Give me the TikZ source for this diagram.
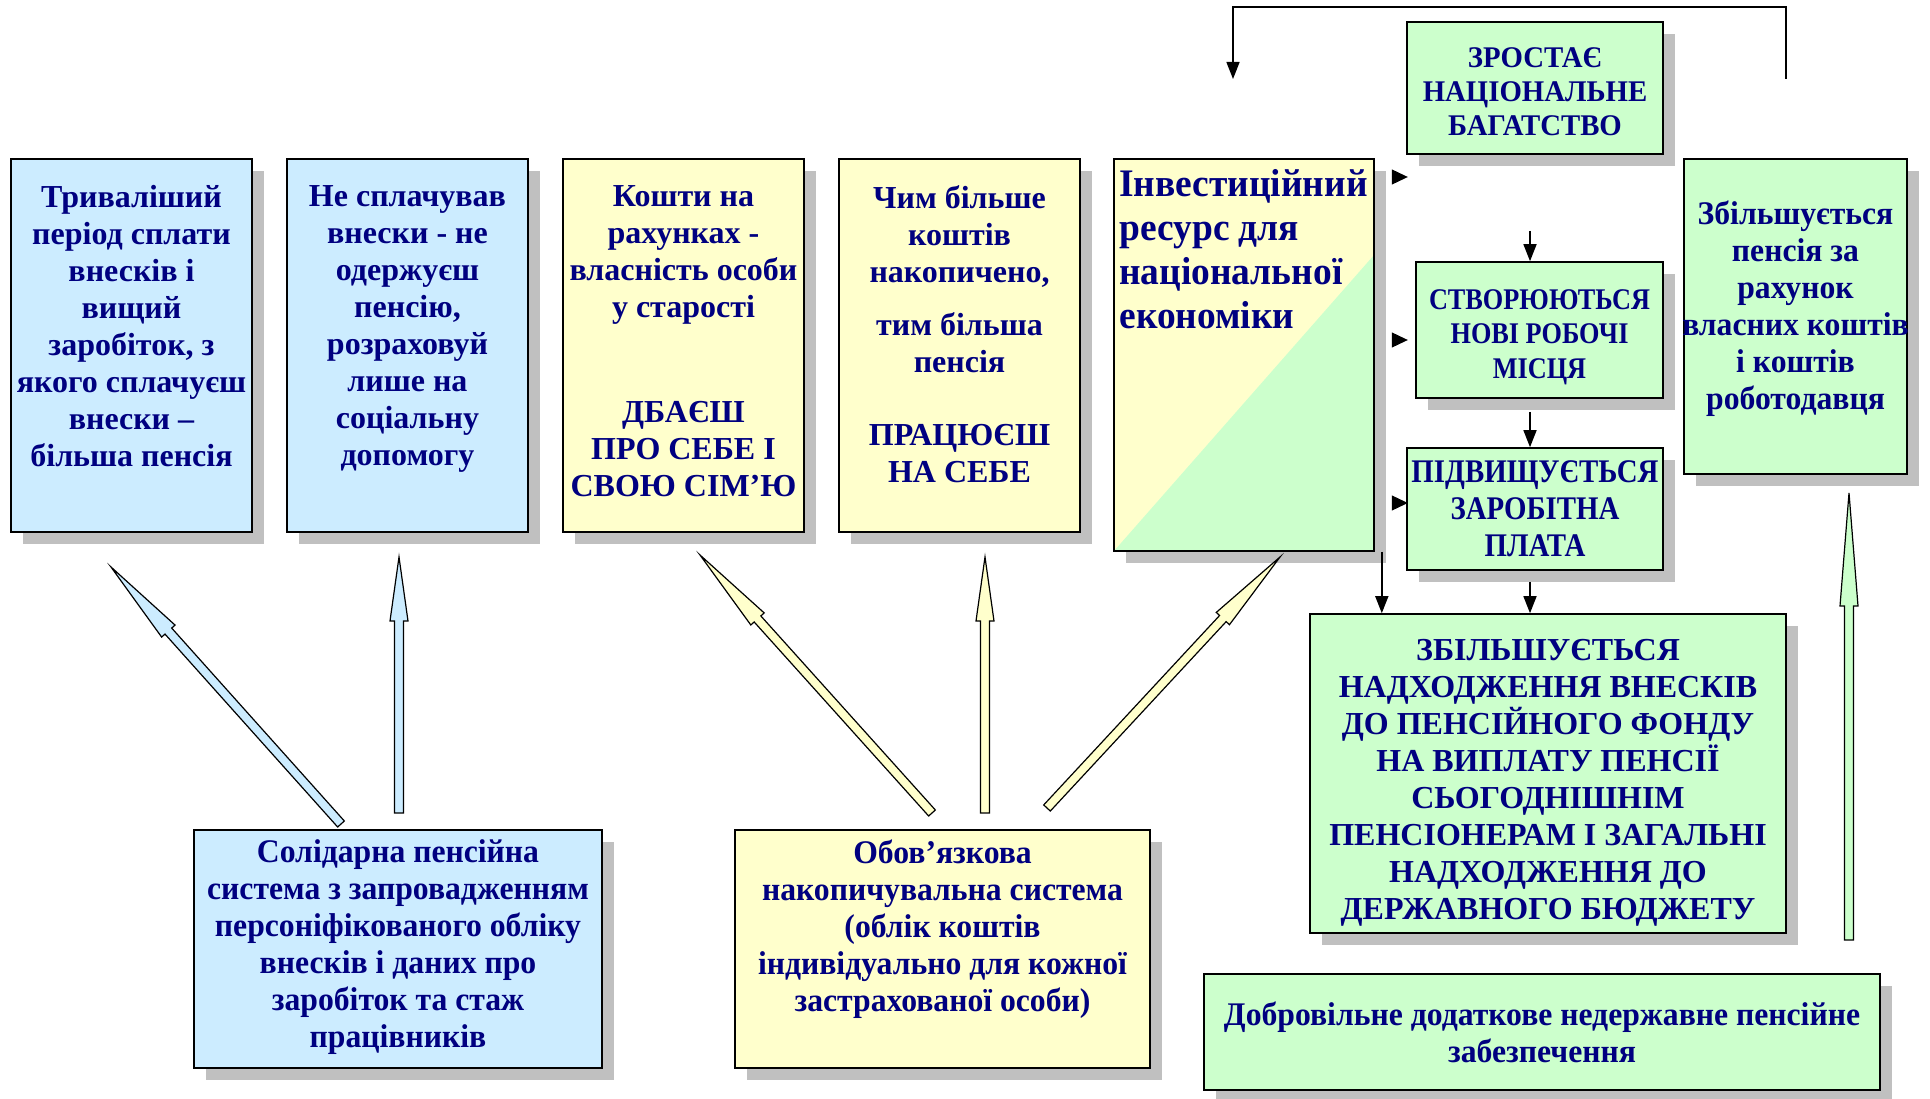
\documentclass[tikz,border=0pt]{standalone}
\usepackage{fontspec}
\setmainfont{Liberation Serif}
\newfontfamily\narrowfont[FakeStretch=0.96]{Liberation Serif}
\newfontfamily\tightfont[FakeStretch=0.875]{Liberation Serif}
\usetikzlibrary{calc,shadows,arrows.meta}
\definecolor{boxblue}{HTML}{CCECFF}
\definecolor{boxyellow}{HTML}{FFFFCC}
\definecolor{boxgreen}{HTML}{CCFFCC}
\definecolor{shadegray}{HTML}{C0C0C0}
\definecolor{inkblue}{HTML}{000080}
\tikzset{
 box/.style={draw, line width=1.6pt, inner sep=0pt, drop shadow={shadow xshift=12pt,shadow yshift=-12pt,fill=shadegray,opacity=1}},
 txt/.style={text=inkblue, font=\bfseries\fontsize{32}{37}\selectfont, align=center, inner sep=0pt},
 ntxt/.style={text=inkblue, font=\narrowfont\bfseries\fontsize{33}{37}\selectfont, align=center, inner sep=0pt},
 arr/.style={line width=1.5pt, -{Triangle[length=17pt,width=13pt]}},
 tipr/.style={line width=1pt, -{Triangle[length=16pt,width=15pt]}},
}
% block arrow: fill, tail, tip, head length
\newcommand{\blockarrow}[4]{%
 \coordinate (ba) at ($(#3)!#4!(#2)$);
 \draw[fill=#1, line width=1.2pt] ($(#2)!4.5pt!90:(#3)$) -- ($(ba)!4.5pt!90:(#3)$) -- ($(ba)!9pt!90:(#3)$) -- (#3) -- ($(ba)!9pt!-90:(#3)$) -- ($(ba)!4.5pt!-90:(#3)$) -- ($(#2)!4.5pt!-90:(#3)$) -- cycle;}

\begin{document}
\begin{tikzpicture}[x=1pt,y=-1pt]
\useasboundingbox (0,0) rectangle (1930,1099);
% upper row
\node[box, fill=boxblue, minimum width=241pt, minimum height=373pt] (longer) at (131.5,345.5) {};
\node[txt, anchor=north] (longer-t) at ([yshift=-27pt]longer.north) {Триваліший\\період сплати\\внесків і\\вищий\\заробіток, з\\якого сплачуєш\\внески –\\більша пенсія};
\node[box, fill=boxblue, minimum width=241pt, minimum height=373pt] (nopay) at (407.5,345.5) {};
\node[txt, anchor=north] (nopay-t) at ([yshift=-27pt]nopay.north) {Не сплачував\\внески - не\\одержуєш\\пенсію,\\розраховуй\\лише на\\соціальну\\допомогу};
\node[box, fill=boxyellow, minimum width=241pt, minimum height=373pt] (funds) at (683.5,345.5) {};
\node[txt, anchor=north] (funds-t) at ([yshift=-27pt]funds.north) {Кошти на\\рахунках -\\власність особи\\у старості\\[68pt]ДБАЄШ\\ПРО СЕБЕ І\\СВОЮ СІМ’Ю};
\node[box, fill=boxyellow, minimum width=241pt, minimum height=373pt] (more) at (959.5,345.5) {};
\node[txt, anchor=north] (more-t) at ([yshift=-27pt]more.north) {Чим більше\\коштів\\накопичено,\\[16pt]тим більша\\пенсія\\[36pt]ПРАЦЮЄШ\\НА СЕБЕ};
\node[box, fill=boxyellow, minimum width=260pt, minimum height=392pt, path picture={\fill[boxgreen] (path picture bounding box.south west) -- (path picture bounding box.south east) -- ($(path picture bounding box.north east)!0.245!(path picture bounding box.south east)$) -- cycle;}] (invest) at (1244,355) {};
\node[ntxt, font=\narrowfont\bfseries\fontsize{39}{44}\selectfont, align=left, anchor=north west] (invest-t) at ([xshift=6pt,yshift=-11pt]invest.north west) {Інвестиційний\\ресурс для\\національної\\економіки};
% right column
\node[box, fill=boxgreen, minimum width=256pt, minimum height=132pt] (wealth) at (1535,88) {};
\node[ntxt, font=\narrowfont\bfseries\fontsize{30}{34}\selectfont] (wealth-t) at ([yshift=-4pt]wealth.center) {ЗРОСТАЄ\\НАЦІОНАЛЬНЕ\\БАГАТСТВО};
\node[box, fill=boxgreen, minimum width=247pt, minimum height=136pt] (jobs) at (1539.5,330) {};
\node[ntxt, font=\tightfont\bfseries\fontsize{30}{34.5}\selectfont] (jobs-t) at ([yshift=-7pt]jobs.center) {СТВОРЮЮТЬСЯ\\НОВІ РОБОЧІ\\МІСЦЯ};
\node[box, fill=boxgreen, minimum width=256pt, minimum height=122pt, ntxt, font=\tightfont\bfseries\fontsize{33}{37}\selectfont] (wage) at (1535,509) {ПІДВИЩУЄТЬСЯ\\ЗАРОБІТНА\\ПЛАТА};
\node[box, fill=boxgreen, minimum width=223pt, minimum height=315pt] (own) at (1795.5,316.5) {};
\node[ntxt] (own-t) at ([yshift=8pt]own.center) {Збільшується\\пенсія за\\рахунок\\власних коштів\\і коштів\\роботодавця};
\node[box, fill=boxgreen, minimum width=476pt, minimum height=319pt] (inflow) at (1548,773.5) {};
\node[txt] (inflow-t) at ([yshift=-9pt]inflow.center) {ЗБІЛЬШУЄТЬСЯ\\НАДХОДЖЕННЯ ВНЕСКІВ\\ДО ПЕНСІЙНОГО ФОНДУ\\НА ВИПЛАТУ ПЕНСІЇ\\СЬОГОДНІШНІМ\\ПЕНСІОНЕРАМ І ЗАГАЛЬНІ\\НАДХОДЖЕННЯ ДО\\ДЕРЖАВНОГО БЮДЖЕТУ};
\node[box, fill=boxgreen, minimum width=676pt, minimum height=116pt, ntxt] (volunt) at (1542,1032) {Добровільне додаткове недержавне пенсійне\\забезпечення};
% lower row
\node[box, fill=boxblue, minimum width=408pt, minimum height=238pt] (solid) at (398,949) {};
\node[ntxt, anchor=north] (solid-t) at ([yshift=-10pt]solid.north) {Солідарна пенсійна\\система з запровадженням\\персоніфікованого обліку\\внесків і даних про\\заробіток та стаж\\працівників};
\node[box, fill=boxyellow, minimum width=415pt, minimum height=238pt] (accum) at (942.5,949) {};
\node[ntxt, anchor=north] (accum-t) at ([yshift=-10pt]accum.north) {Обов’язкова\\накопичувальна система\\(облік коштів\\індивідуально для кожної\\застрахованої особи)};
% line arrows
\coordinate (fbR) at (1786,79); \coordinate (fbL) at (1233,79);
\draw[arr] (fbR) -- (fbR |- 0,7) -| (fbL);
\foreach \yy in {177,340,503} \draw[tipr] (invest.east |- 0,\yy) ++(17,0) -- ++(16,0);
\coordinate (jobsin) at (1530,231);
\draw[arr] (jobsin) -- (jobsin |- jobs.north);
\draw[arr] (jobs.south -| jobsin) ++(0,13) -- (wage.north -| jobsin);
\draw[arr] (wage.south -| jobsin) ++(0,11) -- (inflow.north -| jobsin);
\draw[arr] ([xshift=7pt]invest.south east) -- ([xshift=7pt]invest.south east |- inflow.north);
% block arrows
\coordinate (b1t) at (341,824); \coordinate (b1h) at (111,567);
\coordinate (b2t) at (399,813); \coordinate (b2h) at (399,557);
\coordinate (b3t) at (932,813); \coordinate (b3h) at (700,555);
\coordinate (b4t) at (985,813); \coordinate (b4h) at (985,557);
\coordinate (b5t) at (1047,808); \coordinate (b5h) at (1280,557);
\coordinate (b6t) at (1849,940); \coordinate (b6h) at (1849,493);
\blockarrow{boxblue}{b1t}{b1h}{86pt}
\blockarrow{boxblue}{b2t}{b2h}{64pt}
\blockarrow{boxyellow}{b3t}{b3h}{86pt}
\blockarrow{boxyellow}{b4t}{b4h}{64pt}
\blockarrow{boxyellow}{b5t}{b5h}{84pt}
\blockarrow{boxgreen}{b6t}{b6h}{113pt}
\end{tikzpicture}
\end{document}
